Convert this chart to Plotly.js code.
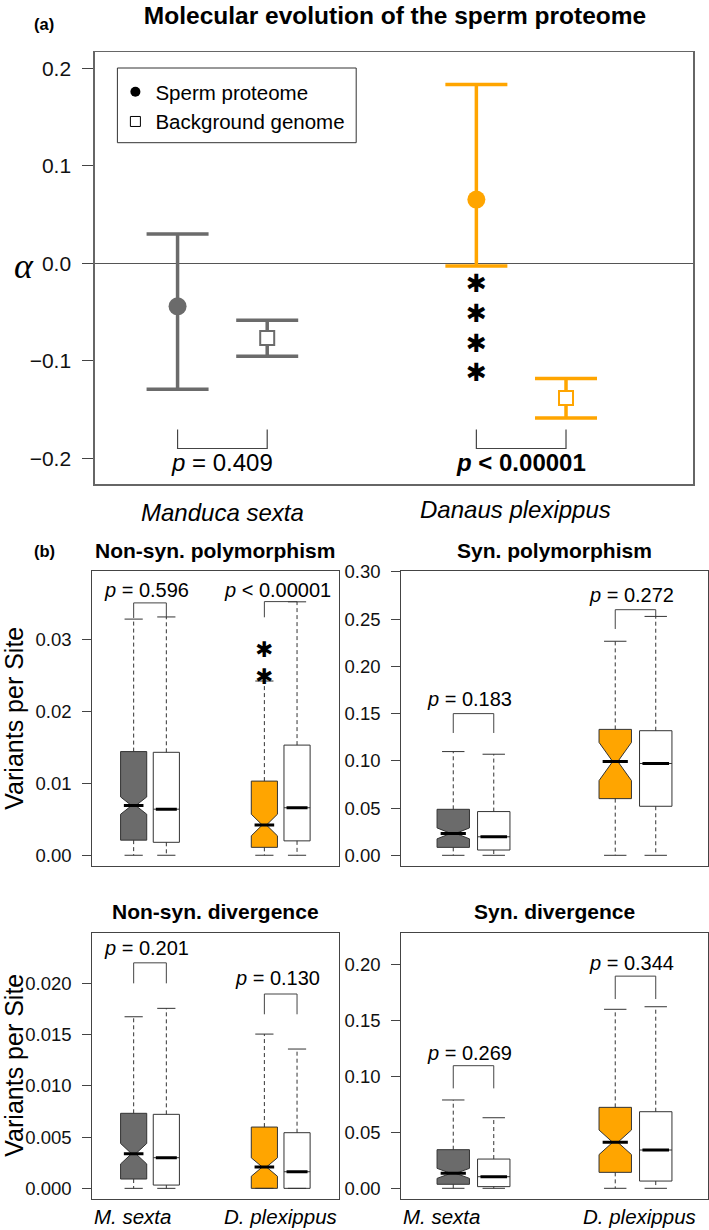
<!DOCTYPE html>
<html><head><meta charset="utf-8">
<script src="https://cdn.plot.ly/plotly-3.0.1.min.js"></script>
<style>html,body{margin:0;padding:0;background:#fff}#chart{width:709px;height:1230px}</style>
</head><body><div id="chart"></div>
<script>
// ===== Panel (a): alpha estimates =====
const species = ['Manduca sexta', 'Danaus plexippus'];
const seriesNames = ['Sperm proteome', 'Background genome'];
const manducaAlpha = [-0.0441, -0.0766];
const manducaUpper = [0.0301, -0.0585];
const manducaLower = [-0.1292, -0.0954];
const danausAlpha = [0.0653, -0.1381];
const danausUpper = [0.1833, -0.1183];
const danausLower = [-0.0028, -0.1587];
const alphaTicks = [-0.2, -0.1, 0, 0.1, 0.2];
const alphaTickText = ['\u22120.2', '\u22120.1', '0.0', '0.1', '0.2'];
const alphaPText = ['<i>p</i> = 0.409', '<b><i>p</i> &lt; 0.00001</b>'];
const alphaBracketTop = -0.1706, alphaBracketBottom = -0.190, alphaPTextY = -0.2048;
const alphaStarsY = [-0.0205, -0.0513, -0.0821, -0.1118];

// ===== Panel (b): box plot statistics (order: M. sexta sperm, M. sexta background, D. plexippus sperm, D. plexippus background)
const boxLabels = ['M. sexta', 'D. plexippus'];
const boxPos = [1, 2, 5, 6];

const nsPolyQ1 = [0.0021, 0.0018, 0.0011, 0.0020];
const nsPolyMed = [0.0069, 0.0064, 0.0042, 0.0066];
const nsPolyQ3 = [0.0144, 0.0143, 0.0103, 0.0153];
const nsPolyLo = [0, 0, 0, 0];
const nsPolyHi = [0.0328, 0.0331, 0.0242, 0.0352];
const nsPolyNotch = [0.0012, 0, 0.0015, 0];
const nsPolyTicks = [0, 0.01, 0.02, 0.03];
const nsPolyTickText = ['0.00', '0.01', '0.02', '0.03'];
const nsPolyP = ['<i>p</i> = 0.596', '<i>p</i> &lt; 0.00001'];
const nsPolyPY = [0.0368, 0.0368];
const nsPolyBrTop = [0.03505, 0.03523];
const nsPolyBrLeft = [0.03296, 0.03305];
const nsPolyBrRight = [0.0331, 0.0352];
const nsPolyStarsY = [0.02863, 0.02483];

const sPolyQ1 = [0.0084, 0.0056, 0.0600, 0.0519];
const sPolyMed = [0.0232, 0.0196, 0.0993, 0.0972];
const sPolyQ3 = [0.0487, 0.0463, 0.1333, 0.1319];
const sPolyLo = [0, 0, 0, 0];
const sPolyHi = [0.1098, 0.1070, 0.2266, 0.2529];
const sPolyNotch = [0.0058, 0, 0.0202, 0];
const sPolyTicks = [0, 0.05, 0.10, 0.15, 0.20, 0.25, 0.30];
const sPolyTickText = ['0.00', '0.05', '0.10', '0.15', '0.20', '0.25', '0.30'];
const sPolyP = ['<i>p</i> = 0.183', '<i>p</i> = 0.272'];
const sPolyPY = [0.1653, 0.2751];
const sPolyBrTop = [0.150, 0.260];
const sPolyBrLeft = [0.1295, 0.2396];
const sPolyBrRight = [0.1295, 0.2529];

const nsDivQ1 = [0.00091, 0.00032, 0, 0];
const nsDivMed = [0.00338, 0.00299, 0.00208, 0.00162];
const nsDivQ3 = [0.00732, 0.00722, 0.00598, 0.00543];
const nsDivLo = [0, 0, 0, 0];
const nsDivHi = [0.01674, 0.01756, 0.01505, 0.01359];
const nsDivNotch = [0.0010, 0, 0.0009, 0];
const nsDivTicks = [0, 0.005, 0.010, 0.015, 0.020];
const nsDivTickText = ['0.000', '0.005', '0.010', '0.015', '0.020'];
const nsDivP = ['<i>p</i> = 0.201', '<i>p</i> = 0.130'];
const nsDivPY = [0.02341, 0.02049];
const nsDivBrTop = [0.0220, 0.01896];
const nsDivBrLeft = [0.0200, 0.01698];
const nsDivBrRight = [0.0200, 0.01698];

const sDivQ1 = [0.0036, 0.0015, 0.0143, 0.0065];
const sDivMed = [0.0134, 0.0104, 0.0412, 0.0343];
const sDivQ3 = [0.0346, 0.0262, 0.0725, 0.0686];
const sDivLo = [0, 0, 0, 0];
const sDivHi = [0.0791, 0.0632, 0.1603, 0.1626];
const sDivNotch = [0.0045, 0, 0.011, 0];
const sDivTicks = [0, 0.05, 0.10, 0.15, 0.20];
const sDivTickText = ['0.00', '0.05', '0.10', '0.15', '0.20'];
const sDivP = ['<i>p</i> = 0.269', '<i>p</i> = 0.344'];
const sDivPY = [0.1209, 0.2015];
const sDivBrTop = [0.1098, 0.190];
const sDivBrLeft = [0.0895, 0.1695];
const sDivBrRight = [0.0895, 0.1695];

const panelTitles = ['Non-syn. polymorphism', 'Syn. polymorphism', 'Non-syn. divergence', 'Syn. divergence'];

// ===== styling =====
const FONT = 'Liberation Sans, Arial, Helvetica, sans-serif';
const STARFONT = 'DejaVu Sans, sans-serif';
const STAR = '\u2731';
const GRAY = '#6B6B6B', ORANGE = '#FFA500';
const boxFills = [GRAY, '#FFFFFF', ORANGE, '#FFFFFF'];
const EDGE = '#333333';
const W = 709, H = 1230;
const px = v => v / W, py = v => 1 - v / H;

const traces = [];
const annotations = [];
const shapes = [];
function note(o) { annotations.push(Object.assign({ showarrow: false, xanchor: 'center', yanchor: 'middle' }, o)); }

// ---- panel (a) traces
function alphaTrace(est, up, lo, color, center) {
  return {
    type: 'scatter', mode: 'markers', x: [center - 0.15, center + 0.15], y: est,
    error_y: { type: 'data', symmetric: false,
      array: up.map((u, i) => u - est[i]), arrayminus: lo.map((l, i) => est[i] - l),
      color: color, thickness: 3.5, width: 31 },
    marker: { symbol: ['circle', 'square'], size: [18, 14], color: [color, '#FFFFFF'], opacity: 1,
      line: { color: color, width: [0, 2] } },
    xaxis: 'x', yaxis: 'y', showlegend: false, hoverinfo: 'skip'
  };
}
traces.push(alphaTrace(manducaAlpha, manducaUpper, manducaLower, GRAY, 1));
traces.push(alphaTrace(danausAlpha, danausUpper, danausLower, ORANGE, 2));
[1, 2].forEach((c, k) => {
  traces.push({ type: 'scatter', mode: 'lines', x: [c - 0.15, c - 0.15, c + 0.15, c + 0.15],
    y: [alphaBracketTop, alphaBracketBottom, alphaBracketBottom, alphaBracketTop],
    line: { color: '#444', width: 1.2 }, xaxis: 'x', yaxis: 'y', showlegend: false, hoverinfo: 'skip' });
  note({ xref: 'x', yref: 'y', x: c, y: alphaPTextY, text: alphaPText[k], font: { family: FONT, size: 24, color: '#000' } });
});
alphaStarsY.forEach(y => note({ xref: 'x', yref: 'y', x: 1.85, y: y, text: STAR,
  font: { family: STARFONT, size: 25, color: '#000' } }));
// legend dummies
traces.push({ type: 'scatter', mode: 'markers', x: [null], y: [null], name: seriesNames[0],
  marker: { symbol: 'circle', size: 10, color: '#000' }, xaxis: 'x', yaxis: 'y', hoverinfo: 'skip' });
traces.push({ type: 'scatter', mode: 'markers', x: [null], y: [null], name: seriesNames[1],
  marker: { symbol: 'square-open', size: 10, color: '#000', line: { width: 1 } }, xaxis: 'x', yaxis: 'y', hoverinfo: 'skip' });

// ---- panel (b) traces
const panels = [
  { xa: 'x2', ya: 'y2', q1: nsPolyQ1, med: nsPolyMed, q3: nsPolyQ3, lo: nsPolyLo, hi: nsPolyHi, notch: nsPolyNotch,
    p: nsPolyP, pY: nsPolyPY, brTop: nsPolyBrTop, brL: nsPolyBrLeft, brR: nsPolyBrRight, cap: 13, medSize: [14, 15] },
  { xa: 'x3', ya: 'y3', q1: sPolyQ1, med: sPolyMed, q3: sPolyQ3, lo: sPolyLo, hi: sPolyHi, notch: sPolyNotch,
    p: sPolyP, pY: sPolyPY, brTop: sPolyBrTop, brL: sPolyBrLeft, brR: sPolyBrRight, cap: 16, medSize: [18, 19] },
  { xa: 'x4', ya: 'y4', q1: nsDivQ1, med: nsDivMed, q3: nsDivQ3, lo: nsDivLo, hi: nsDivHi, notch: nsDivNotch,
    p: nsDivP, pY: nsDivPY, brTop: nsDivBrTop, brL: nsDivBrLeft, brR: nsDivBrRight, cap: 13, medSize: [14, 15] },
  { xa: 'x5', ya: 'y5', q1: sDivQ1, med: sDivMed, q3: sDivQ3, lo: sDivLo, hi: sDivHi, notch: sDivNotch,
    p: sDivP, pY: sDivPY, brTop: sDivBrTop, brL: sDivBrLeft, brR: sDivBrRight, cap: 16, medSize: [18, 19] }
];

panels.forEach(P => {
  boxPos.forEach((pos, i) => {
    const notched = P.notch[i] > 0;
    const t = { type: 'box', orientation: 'v', x: [pos], q1: [P.q1[i]], median: [P.med[i]], q3: [P.q3[i]],
      lowerfence: [P.q1[i]], upperfence: [P.q3[i]], width: 0.8, whiskerwidth: 0,
      fillcolor: boxFills[i], line: { color: EDGE, width: 1 }, boxpoints: false,
      xaxis: P.xa, yaxis: P.ya, showlegend: false, hoverinfo: 'skip' };
    if (notched) { t.notched = true; t.notchspan = [P.notch[i]]; t.notchwidth = 0.42; }
    traces.push(t);
  });
  const wx = [], wy = [];
  boxPos.forEach((pos, i) => {
    wx.push(pos, pos, null, pos, pos, null);
    wy.push(P.q3[i], P.hi[i], null, P.q1[i], P.lo[i], null);
  });
  traces.push({ type: 'scatter', mode: 'lines', x: wx, y: wy, connectgaps: false,
    line: { color: EDGE, width: 1, dash: '4px,3px' }, xaxis: P.xa, yaxis: P.ya, showlegend: false, hoverinfo: 'skip' });
  traces.push({ type: 'scatter', mode: 'markers', x: boxPos.concat(boxPos), y: P.hi.concat(P.lo),
    marker: { symbol: 'line-ew', size: P.cap, color: EDGE, opacity: 1, line: { color: EDGE, width: 1 } },
    xaxis: P.xa, yaxis: P.ya, showlegend: false, hoverinfo: 'skip' });
  traces.push({ type: 'scatter', mode: 'markers', x: boxPos, y: P.med,
    marker: { symbol: 'line-ew', size: boxPos.map((_, i) => P.notch[i] > 0 ? P.medSize[0] : P.medSize[1]),
      color: '#000', opacity: 1, line: { color: '#000', width: 3 } },
    xaxis: P.xa, yaxis: P.ya, showlegend: false, hoverinfo: 'skip' });
  [0, 1].forEach(k => {
    const a = boxPos[2 * k], b = boxPos[2 * k + 1];
    traces.push({ type: 'scatter', mode: 'lines', x: [a, a, b, b], y: [P.brL[k], P.brTop[k], P.brTop[k], P.brR[k]],
      line: { color: '#444', width: 1 }, xaxis: P.xa, yaxis: P.ya, showlegend: false, hoverinfo: 'skip' });
    note({ xref: P.xa, yref: P.ya, x: (a + b) / 2 - 0.1, y: P.pY[k], text: P.p[k], font: { family: FONT, size: 20, color: '#000' } });
  });
});
nsPolyStarsY.forEach(y => note({ xref: 'x2', yref: 'y2', x: boxPos[2], y: y, text: STAR,
  font: { family: STARFONT, size: 21.5, color: '#000' } }));

// ---- text annotations
note({ xref: 'paper', yref: 'paper', x: px(43.5), y: py(24), text: '<b>(a)</b>', font: { family: FONT, size: 16.5, color: '#000' } });
note({ xref: 'paper', yref: 'paper', x: px(44), y: py(550.7), text: '<b>(b)</b>', font: { family: FONT, size: 16.5, color: '#000' } });
note({ xref: 'paper', yref: 'paper', x: px(24), y: py(266), text: '<i>\u03b1</i>',
  font: { family: 'Liberation Serif, DejaVu Serif, serif', size: 36, color: '#000' } });
note({ xref: 'x', yref: 'paper', x: 1, y: py(513), text: '<i>' + species[0] + '</i>', font: { family: FONT, size: 24, color: '#000' } });
note({ xref: 'x', yref: 'paper', x: 1.98, y: py(509.5), text: '<i>' + species[1] + '</i>', font: { family: FONT, size: 24, color: '#000' } });
const titleY = [py(550), py(550), py(911.7), py(911.7)];
['x2', 'x3', 'x4', 'x5'].forEach((xa, i) => note({ xref: xa + ' domain', yref: 'paper', x: 0.5, y: titleY[i],
  text: '<b>' + panelTitles[i] + '</b>', font: { family: FONT, size: 21, color: '#000' } }));
[718.7, 1065.7].forEach(yc => note({ xref: 'paper', yref: 'paper', x: px(14), y: py(yc),
  text: 'Variants per Site', textangle: -90, font: { family: FONT, size: 25, color: '#000' } }));
['x4', 'x5'].forEach(xa => note({ xref: xa + ' domain', yref: 'paper', x: 0, xanchor: 'left', y: py(1216.5),
  text: '<i>' + boxLabels[0] + '</i>', font: { family: FONT, size: 20.5, color: '#000' } }));
note({ xref: 'x4 domain', yref: 'paper', x: 1, xanchor: 'right', y: py(1216.5), text: '<i>' + boxLabels[1] + '</i>',
  font: { family: FONT, size: 20.5, color: '#000' } });
note({ xref: 'x5 domain', yref: 'paper', x: 1, xanchor: 'right', xshift: -10, y: py(1216.5), text: '<i>' + boxLabels[1] + '</i>',
  font: { family: FONT, size: 20.5, color: '#000' } });

// legend frame
shapes.push({ type: 'rect', xref: 'paper', yref: 'paper', x0: px(117.4), x1: px(356.2), y0: py(142.7), y1: py(68),
  line: { color: '#333', width: 1 }, fillcolor: 'rgba(0,0,0,0)' });

// ---- axes
function xBox(domain, range, anchor) {
  return { domain: domain, range: range, anchor: anchor, showticklabels: false, ticks: '', showgrid: false, zeroline: false,
    showline: true, mirror: true, linecolor: '#444', linewidth: 1, fixedrange: true };
}
function yBox(domain, range, anchor, tv, tt) {
  return { domain: domain, range: range, anchor: anchor, tickvals: tv, ticktext: tt, ticks: 'outside', ticklen: 8.5,
    tickwidth: 1, tickcolor: '#444', ticklabelstandoff: 7, tickfont: { family: FONT, size: 18.5, color: '#111' },
    showgrid: false, zeroline: false, showline: true, mirror: true, linecolor: '#444', linewidth: 1, fixedrange: true };
}
const leftDom = [px(91.7), px(339)], rightDom = [px(400.7), px(708.3)];
const rowTop = [py(865.7), py(570.5)], rowBot = [py(1198.7), py(932.7)];

const layout = {
  width: W, height: H, margin: { l: 0, r: 0, t: 0, b: 0 }, paper_bgcolor: '#fff', plot_bgcolor: '#fff',
  font: { family: FONT, color: '#000' },
  title: { text: '<b>Molecular evolution of the sperm proteome</b>', x: px(395), xanchor: 'center', y: py(15.5), yanchor: 'middle',
    font: { family: FONT, size: 24.5, color: '#000' } },
  showlegend: true,
  legend: { x: px(115.4), y: py(72), xanchor: 'left', yanchor: 'top', bgcolor: 'rgba(0,0,0,0)', borderwidth: 0,
    font: { family: FONT, size: 20.5, color: '#000' }, itemwidth: 30, tracegroupgap: 0 },
  xaxis: { domain: [px(94.8), px(693)], range: [0.573, 2.575], anchor: 'y', showticklabels: false, ticks: '', showgrid: false,
    zeroline: false, showline: true, mirror: true, linecolor: '#666', linewidth: 1.5, fixedrange: true },
  yaxis: { domain: [py(484), py(52.3)], range: [-0.2264, 0.2164], anchor: 'x', tickvals: alphaTicks, ticktext: alphaTickText,
    ticks: 'outside', ticklen: 11, tickwidth: 1, tickcolor: '#444', ticklabelstandoff: 7,
    tickfont: { family: FONT, size: 21, color: '#111' }, showgrid: false, zeroline: true, zerolinecolor: '#555', zerolinewidth: 1.5,
    showline: true, mirror: true, linecolor: '#666', linewidth: 1.5, fixedrange: true },
  xaxis2: xBox(leftDom, [-0.284, 7.284], 'y2'),
  yaxis2: yBox(rowTop, [-0.00145, 0.03955], 'x2', nsPolyTicks, nsPolyTickText),
  xaxis3: xBox(rightDom, [-0.298, 7.298], 'y3'),
  yaxis3: yBox(rowTop, [-0.011, 0.3015], 'x3', sPolyTicks, sPolyTickText),
  xaxis4: xBox(leftDom, [-0.284, 7.284], 'y4'),
  yaxis4: yBox(rowBot, [-0.00101, 0.02494], 'x4', nsDivTicks, nsDivTickText),
  xaxis5: xBox(rightDom, [-0.298, 7.298], 'y5'),
  yaxis5: yBox(rowBot, [-0.0093, 0.2289], 'x5', sDivTicks, sDivTickText),
  annotations: annotations, shapes: shapes
};

Plotly.newPlot('chart', traces, layout, { staticPlot: true, displayModeBar: false });
</script></body></html>
